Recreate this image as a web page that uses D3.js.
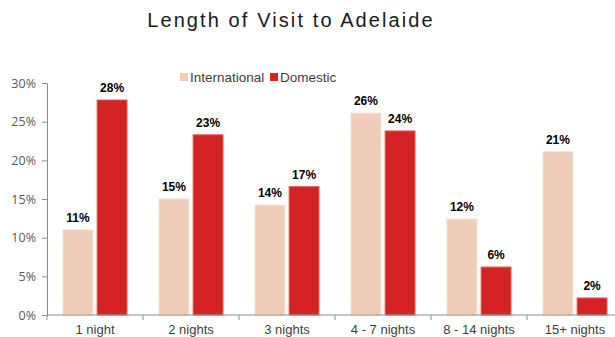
<!DOCTYPE html>
<html>
<head>
<meta charset="utf-8">
<script src="https://cdn.jsdelivr.net/npm/d3@7"></script>
<style>
  html, body { margin: 0; padding: 0; background: #fff; }
  svg { display: block; }
</style>
</head>
<body>
<svg id="chart" width="615" height="337"></svg>
<script>
// Length of stay categories and the share of visitors in each
const categories = ["1 night", "2 nights", "3 nights", "4 - 7 nights", "8 - 14 nights", "15+ nights"];
const international = [0.110, 0.150, 0.142, 0.261, 0.124, 0.211];
const domestic = [0.278, 0.233, 0.166, 0.238, 0.062, 0.022];
const seriesNames = ["International", "Domestic"];
const yTicks = [0, 0.05, 0.10, 0.15, 0.20, 0.25, 0.30];

const colors = { International: "#f0cdbb", Domestic: "#d42323" };

const svg = d3.select("#chart");
const margin = { left: 47, top: 83, bottom: 315 };
const plotRight = 47 + 96 * 6;

const x = d3.scaleBand().domain(categories).range([margin.left, plotRight]).paddingInner(0).paddingOuter(0);
const y = d3.scaleLinear().domain([0, 0.30]).range([margin.bottom, margin.top]);
const xs = d3.scaleBand().domain(seriesNames).range([16, 80]).paddingInner(0.125).paddingOuter(0);

const rows = categories.map((c, i) => ({
  category: c,
  values: [
    { key: "International", value: international[i] },
    { key: "Domestic", value: domestic[i] }
  ]
}));

// Title
svg.append("text")
  .attr("x", 291).attr("y", 27)
  .attr("text-anchor", "middle")
  .attr("font-family", "'Liberation Sans', Arial, sans-serif")
  .attr("font-size", 20)
  .attr("letter-spacing", "2.1px")
  .attr("fill", "#1a1a1a")
  .text("Length of Visit to Adelaide");

// Bars
const groups = svg.append("g").selectAll("g").data(rows).join("g")
  .attr("transform", d => `translate(${x(d.category)},0)`);

groups.selectAll("rect").data(d => d.values).join("rect")
  .attr("x", d => xs(d.key))
  .attr("width", xs.bandwidth())
  .attr("y", d => y(d.value))
  .attr("height", d => y(0) - y(d.value))
  .attr("fill", d => colors[d.key])
  .attr("stroke", d => d.key === "Domestic" ? "#e05a5a" : "#f6ddd0")
  .attr("stroke-width", 1);

// Value labels
groups.selectAll("text").data(d => d.values).join("text")
  .attr("x", d => xs(d.key) + xs.bandwidth() / 2)
  .attr("y", d => y(d.value) - 8)
  .attr("text-anchor", "middle")
  .attr("font-family", "'Liberation Sans', Arial, sans-serif")
  .attr("font-weight", "bold")
  .attr("font-size", 12)
  .attr("fill", "#000")
  .text(d => d3.format(".0%")(d.value));

// Y axis
const yAxis = svg.append("g")
  .attr("transform", `translate(${margin.left},0)`)
  .call(d3.axisLeft(y).tickValues(yTicks).tickFormat(d3.format(".0%")).tickSize(5).tickPadding(6));
yAxis.select(".domain").attr("stroke", "#8c8c8c");
yAxis.selectAll(".tick line").attr("stroke", "#8c8c8c");
yAxis.selectAll(".tick text")
  .attr("font-family", "'Open Sans', 'Liberation Sans', sans-serif")
  .attr("font-size", 12.5)
  .attr("fill", "#595959");

// X axis with ticks between categories
const xAxis = svg.append("g")
  .attr("transform", `translate(0,${margin.bottom})`);
xAxis.append("line")
  .attr("x1", margin.left).attr("x2", plotRight)
  .attr("stroke", "#8c8c8c");
xAxis.selectAll("line.sep").data(categories.concat([null])).join("line")
  .attr("class", "sep")
  .attr("x1", (d, i) => margin.left + i * x.bandwidth())
  .attr("x2", (d, i) => margin.left + i * x.bandwidth())
  .attr("y1", 0).attr("y2", 5)
  .attr("stroke", "#8c8c8c");
xAxis.selectAll("text").data(categories).join("text")
  .attr("x", d => x(d) + x.bandwidth() / 2)
  .attr("y", 19)
  .attr("text-anchor", "middle")
  .attr("font-family", "'Liberation Sans', Arial, sans-serif")
  .attr("font-size", 13)
  .attr("fill", "#404040")
  .text(d => d);

// Legend
const legend = svg.append("g").attr("transform", "translate(180,73)");
const items = legend.selectAll("g").data(seriesNames).join("g")
  .attr("transform", (d, i) => `translate(${i === 0 ? 0 : 90},0)`);
items.append("rect")
  .attr("width", 8).attr("height", 8)
  .attr("fill", d => colors[d]);
items.append("text")
  .attr("x", 10).attr("y", 9)
  .attr("font-family", "'Liberation Sans', Arial, sans-serif")
  .attr("font-size", 13.5)
  .attr("fill", "#404040")
  .text(d => d);
</script>
</body>
</html>
